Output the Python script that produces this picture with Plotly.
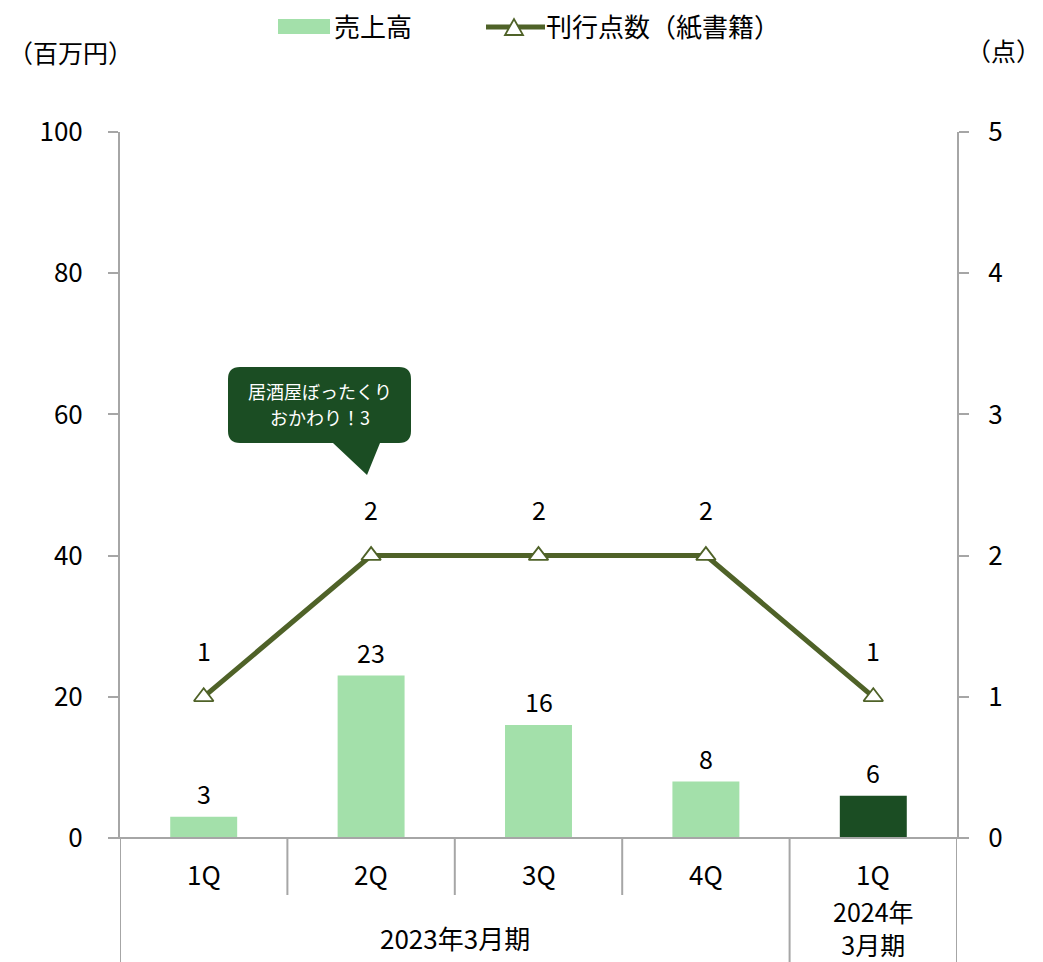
import plotly.graph_objects as go

# ---- data ----
quarters = ["1Q", "2Q", "3Q", "4Q", "1Q"]
sales = [3, 23, 16, 8, 6]                 # 売上高（百万円）
titles_count = [1, 2, 2, 2, 1]            # 刊行点数（紙書籍）
bar_colors = ["#a3e0aa", "#a3e0aa", "#a3e0aa", "#a3e0aa", "#1b4d23"]
group_labels = ["2023年3月期", "2024年<br>3月期"]
group_centers = [1.5, 4]
y_ticks_left = [0, 20, 40, 60, 80, 100]
y_ticks_right = [0, 1, 2, 3, 4, 5]
callout_lines = ["居酒屋ぼったくり", "おかわり！3"]

FONT = "Noto Sans CJK JP"
FW = 400
LINE_COLOR = "#4f6228"
AXIS_GRAY = "#a6a6a6"
DARK = "#1b4d23"

# page body has an 8px margin, so the figure is offset by 8px
OFF = 8
# plot-area edges in screenshot pixels
L, R, T, B = 120, 957, 132, 838
def px(x):
    return (x - L) / (R - L)
def py(y):
    return (B - y) / (B - T)

W, H = 1043 - OFF, 962 - OFF

def f(size, color="black"):
    return dict(size=size, color=color, family=FONT, weight=FW)

xs = list(range(len(quarters)))

fig = go.Figure()
fig.add_trace(go.Bar(x=xs, y=sales, marker=dict(color=bar_colors, line=dict(width=0)),
                     width=0.4, name="売上高", showlegend=False, hoverinfo="skip"))
fig.add_trace(go.Scatter(x=xs, y=titles_count, yaxis="y2", mode="lines+markers",
                         line=dict(color=LINE_COLOR, width=5),
                         marker=dict(symbol="triangle-up", size=17, color="white",
                                     line=dict(color=LINE_COLOR, width=1.8)),
                         name="刊行点数（紙書籍）", showlegend=False, cliponaxis=False,
                         hoverinfo="skip"))

annotations = []
for x, v in zip(xs, sales):
    annotations.append(dict(x=x, y=v, xref="x", yref="y", text=str(v), showarrow=False,
                            yanchor="middle", yshift=24, font=f(25)))
for x, v in zip(xs, titles_count):
    annotations.append(dict(x=x, y=v, xref="x", yref="y2", text=str(v), showarrow=False,
                            yanchor="middle", yshift=47, font=f(25)))
for x, q in zip(xs, quarters):
    annotations.append(dict(x=x, y=py(873), xref="x", yref="paper", text=q, showarrow=False,
                            yanchor="middle", font=f(26)))
annotations.append(dict(x=group_centers[0], y=py(937), xref="x", yref="paper", text=group_labels[0],
                        showarrow=False, yanchor="middle", font=f(26)))
annotations.append(dict(x=group_centers[1], y=py(927), xref="x", yref="paper", text=group_labels[1],
                        showarrow=False, yanchor="middle", font=f(25)))
annotations.append(dict(x=px(6), y=py(52), xref="paper", yref="paper", text="（百万円）", showarrow=False,
                        xanchor="left", yanchor="middle", font=f(25)))
annotations.append(dict(x=px(1043), y=py(50), xref="paper", yref="paper", text="（点）", showarrow=False,
                        xanchor="right", yanchor="middle", font=f(25)))
annotations.append(dict(x=px(332), y=py(26), xref="paper", yref="paper", text="売上高", showarrow=False,
                        xanchor="left", yanchor="middle", font=f(26)))
annotations.append(dict(x=px(544), y=py(26), xref="paper", yref="paper", text="刊行点数（紙書籍）", showarrow=False,
                        xanchor="left", yanchor="middle", font=f(26)))
for line_text, ly in zip(callout_lines, [391, 417]):
    annotations.append(dict(x=px(320), y=py(ly), xref="paper", yref="paper",
                            text=line_text, showarrow=False,
                            xanchor="center", yanchor="middle",
                            font=f(18, "white")))

shapes = []
shapes.append(dict(type="line", xref="paper", yref="paper", x0=px(110), x1=px(967), y0=0, y1=0,
                   line=dict(color=AXIS_GRAY, width=2)))
for d in [0.5, 1.5, 2.5]:
    shapes.append(dict(type="line", xref="x", yref="paper", x0=d, x1=d, y0=0, y1=py(895),
                       line=dict(color=AXIS_GRAY, width=2)))
for d in [-0.5, 3.5, 4.5]:
    shapes.append(dict(type="line", xref="x", yref="paper", x0=d, x1=d, y0=0, y1=py(970),
                       line=dict(color=AXIS_GRAY, width=2)))
shapes.append(dict(type="rect", xref="paper", yref="paper", x0=px(278), x1=px(330), y0=py(34), y1=py(19),
                   fillcolor="#a3e0aa", line=dict(width=0)))
shapes.append(dict(type="line", xref="paper", yref="paper", x0=px(486), x1=px(545), y0=py(27), y1=py(27),
                   line=dict(color=LINE_COLOR, width=5)))
shapes.append(dict(type="path", xref="paper", yref="paper",
                   path=f"M {px(505)} {py(35)} L {px(523)} {py(35)} L {px(514)} {py(19)} Z",
                   fillcolor="white", line=dict(color=LINE_COLOR, width=1.8)))
x0, x1, y0, y1, r = 228, 411, 367, 443, 12
path = (f"M {px(x0+r)} {py(y0)} L {px(x1-r)} {py(y0)} Q {px(x1)} {py(y0)} {px(x1)} {py(y0+r)} "
        f"L {px(x1)} {py(y1-r)} Q {px(x1)} {py(y1)} {px(x1-r)} {py(y1)} "
        f"L {px(380)} {py(y1)} L {px(367)} {py(475)} L {px(333)} {py(y1)} "
        f"L {px(x0+r)} {py(y1)} Q {px(x0)} {py(y1)} {px(x0)} {py(y1-r)} "
        f"L {px(x0)} {py(y0+r)} Q {px(x0)} {py(y0)} {px(x0+r)} {py(y0)} Z")
shapes.append(dict(type="path", xref="paper", yref="paper", path=path, fillcolor=DARK, line=dict(width=0)))

fig.update_layout(
    width=W, height=H,
    margin=dict(l=L - OFF, r=W - (R - OFF), t=T - OFF, b=H - (B - OFF)),
    paper_bgcolor="white", plot_bgcolor="white",
    font=f(25),
    showlegend=False,
    xaxis=dict(range=[-0.5, 4.5], showticklabels=False, showgrid=False, zeroline=False,
               showline=False, ticks=""),
    yaxis=dict(range=[0, 100], tickvals=y_ticks_left, showgrid=False, zeroline=False,
               showline=True, linecolor=AXIS_GRAY, linewidth=2, ticks="outside", ticklen=10,
               tickcolor=AXIS_GRAY, tickwidth=2, ticklabelstandoff=20,
               tickfont=f(26)),
    yaxis2=dict(range=[0, 5], tickvals=y_ticks_right, overlaying="y", side="right", showgrid=False,
                zeroline=False, showline=True, linecolor=AXIS_GRAY, linewidth=2, ticks="outside",
                ticklen=10, tickcolor=AXIS_GRAY, tickwidth=2, ticklabelstandoff=14,
                tickfont=f(26)),
    annotations=annotations,
    shapes=shapes,
)

fig.write_html("out.html")
